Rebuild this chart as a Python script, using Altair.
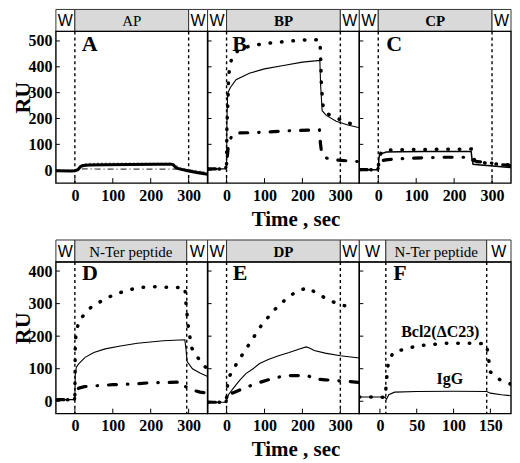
import altair as alt
import pandas as pd

SERIF = "Liberation Serif"
SANS = "Liberation Sans"
GRAY = "#d9d9d9"
PW, PH, HH, SP = 152, 152, 22, 57

# ---------------- data ----------------
A_sol_t = [-50, -10, 0, 8, 15, 22, 40, 80, 150, 220, 255, 260, 266, 275, 300, 325, 350]
A_sol_v = [-2, -3, -2, 2, 14, 18, 20, 21, 22, 23, 23, 20, 10, 5, -3, -10, -16]
A_dot_t = [-50, 0, 10, 18, 30, 80, 150, 220, 255, 262, 275, 300, 325, 350]
A_dot_v = [0, 0, 5, 20, 25, 27, 27, 27, 27, 22, 10, 2, -4, -10]
A_dd_t = [-50, 0, 12, 20, 100, 200, 290, 310, 350]
A_dd_v = [-2, -2, 3, 5, 4, 4, 4, 0, -12]

B_sol_t = [-50, -3, 0, 1, 3, 10, 25, 60, 100, 150, 200, 246, 248, 252, 263, 289, 320, 350]
B_sol_v = [5, 5, 15, 200, 298, 320, 350, 375, 392, 405, 418, 425, 330, 230, 212, 189, 175, 164]
B_dot_t = [-50, -3, 0, 1, 3, 5, 8, 15, 30, 60, 100, 170, 225, 246, 248, 250, 255, 270, 285, 320, 350]
B_dot_v = [5, 5, 20, 176, 240, 349, 400, 440, 462, 480, 490, 500, 506, 503, 445, 330, 240, 215, 205, 183, 172]
B_dd_t = [-50, -3, 0, 5, 15, 30, 60, 110, 170, 245, 247, 250, 259, 280, 320, 350]
B_dd_v = [5, 5, 20, 100, 138, 144, 145, 148, 153, 156, 110, 74, 49, 40, 36, 33]

C_sol_t = [-50, -2, 0, 2, 4, 21, 60, 120, 200, 245, 247, 250, 270, 295, 350]
C_sol_v = [2, 2, 10, 50, 61, 70, 71, 72, 72, 72, 45, 23, 20, 17, 10]
C_dot_t = [-50, -2, 0, 3, 8, 20, 100, 200, 245, 248, 255, 270, 300, 350]
C_dot_v = [2, 2, 10, 50, 70, 78, 80, 81, 82, 60, 35, 30, 25, 20]
C_dd_t = [-50, -2, 0, 5, 20, 56, 115, 175, 222, 245, 248, 260, 290, 320, 350]
C_dd_v = [2, 2, 8, 35, 40, 44, 48, 50, 50, 50, 40, 33, 30, 22, 18]

D_sol_t = [-50, -2, 0, 1, 4, 10, 27, 50, 80, 120, 165, 233, 290, 293, 296, 310, 330, 350]
D_sol_v = [5, 5, 10, 80, 105, 115, 135, 150, 161, 170, 178, 186, 189, 160, 122, 100, 87, 76]
D_dot_t = [-50, -2, 0, 1, 3, 12, 46, 105, 165, 203, 250, 285, 290, 293, 300, 308, 336, 350]
D_dot_v = [5, 5, 20, 160, 212, 250, 293, 329, 349, 352, 350, 349, 350, 300, 220, 164, 113, 100]
D_dd_t = [-50, -2, 0, 3, 10, 25, 50, 100, 150, 200, 250, 285, 292, 300, 312, 330, 350]
D_dd_v = [5, 5, 10, 30, 40, 45, 47, 51, 53, 57, 58, 59, 45, 40, 34, 28, 25]

E_sol_t = [-50, -2, 0, 5, 17, 35, 51, 70, 86, 110, 137, 165, 190, 210, 220, 231, 260, 300, 350]
E_sol_v = [-3, -3, 2, 20, 39, 65, 85, 100, 115, 128, 140, 150, 160, 167, 163, 156, 148, 140, 133]
E_dot_t = [-50, -2, 0, 4, 21, 43, 60, 77, 94, 128, 163, 188, 214, 240, 265, 295, 325]
E_dot_v = [-3, -3, 10, 69, 105, 146, 176, 207, 237, 283, 321, 339, 349, 330, 314, 298, 290]
E_dd_t = [-50, -2, 0, 5, 21, 50, 77, 110, 154, 214, 231, 260, 283, 320, 350]
E_dd_v = [-3, -3, 5, 20, 28, 42, 54, 66, 79, 79, 69, 66, 64, 61, 58]

F_dot_t = [-28, 0, 7, 9, 10, 12, 18, 35, 53, 88, 132, 145, 147, 150, 163, 178]
F_dot_v = [13, 13, 12, 60, 100, 120, 151, 161, 171, 178, 178, 176, 140, 90, 66, 52]
F_sol_t = [-28, 0, 7, 9, 12, 20, 50, 100, 145, 150, 165, 178]
F_sol_v = [13, 13, 12, 6, 20, 28, 30, 31, 30, 25, 20, 17]

TOP_Y = [-50, 537]
BOT_Y = [-38, 428]
TOP_TICKS = [0, 100, 200, 300, 400, 500]
BOT_TICKS = [0, 100, 200, 300, 400]
X_TICKS = [0, 100, 200, 300]
F_TICKS = [0, 50, 100, 150]

panels = [
    dict(letter="A", lx=18, ly=462, xdom=[-50, 350], ydom=TOP_Y, xt=X_TICKS, yt=TOP_TICKS,
         marks=[0, 300], head="AP", hbold=False, yaxis=True, xtitle=False, solw=3.0, thin=True,
         series=[(A_dot_t, A_dot_v, "dot"), (A_dd_t, A_dd_v, "dd"), (A_sol_t, A_sol_v, "sol")]),
    dict(letter="B", lx=15, ly=462, xdom=[-50, 350], ydom=TOP_Y, xt=X_TICKS, yt=TOP_TICKS,
         marks=[0, 300], head="BP", hbold=True, yaxis=False, xtitle=True, solw=1.1, thin=False,
         series=[(B_sol_t, B_sol_v, "sol"), (B_dot_t, B_dot_v, "dot"), (B_dd_t, B_dd_v, "dd")]),
    dict(letter="C", lx=21, ly=462, xdom=[-50, 350], ydom=TOP_Y, xt=X_TICKS, yt=TOP_TICKS,
         marks=[0, 300], head="CP", hbold=True, yaxis=False, xtitle=False, solw=1.5, thin=False,
         series=[(C_sol_t, C_sol_v, "sol"), (C_dot_t, C_dot_v, "dot"), (C_dd_t, C_dd_v, "dd")]),
    dict(letter="D", lx=19, ly=372, xdom=[-50, 350], ydom=BOT_Y, xt=X_TICKS, yt=BOT_TICKS,
         marks=[0, 295], head="N-Ter peptide", hbold=False, yaxis=True, xtitle=False, solw=1.1, thin=False,
         series=[(D_sol_t, D_sol_v, "sol"), (D_dot_t, D_dot_v, "dot"), (D_dd_t, D_dd_v, "dd")]),
    dict(letter="E", lx=16, ly=372, xdom=[-50, 350], ydom=BOT_Y, xt=X_TICKS, yt=BOT_TICKS,
         marks=[0, 300], head="DP", hbold=True, yaxis=False, xtitle=True, solw=1.1, thin=False,
         series=[(E_sol_t, E_sol_v, "sol"), (E_dot_t, E_dot_v, "dot"), (E_dd_t, E_dd_v, "dd")]),
    dict(letter="F", lx=18, ly=372, xdom=[-28, 178], ydom=BOT_Y, xt=F_TICKS, yt=BOT_TICKS,
         marks=[8, 145], head="N-Ter peptide", hbold=False, yaxis=False, xtitle=False, solw=1.1, thin=False,
         series=[(F_sol_t, F_sol_v, "sol"), (F_dot_t, F_dot_v, "dot")]),
]

F_notes = ["Bcl2(\u0394C23)", "IgG"]
F_note_x = [82, 95]
F_note_y = [196, 52]


def header(p):
    x0, x1 = p["xdom"]
    m0, m1 = p["marks"]
    xs = alt.Scale(domain=p["xdom"], nice=False, zero=False)
    seg = pd.DataFrame({"a": [x0, m0, m1], "b": [m0, m1, x1], "f": ["white", GRAY, "white"]})
    rects = alt.Chart(seg).mark_rect(stroke="#333", strokeWidth=1).encode(
        x=alt.X("a:Q", scale=xs, axis=None), x2="b:Q",
        y=alt.value(0), y2=alt.value(HH),
        fill=alt.Fill("f:N", scale=None))
    wdf = pd.DataFrame({"x": [(x0 + m0) / 2, (m1 + x1) / 2], "s": ["W", "W"]})
    wt = alt.Chart(wdf).mark_text(font=SANS, fontSize=16, baseline="middle", color="black").encode(
        x=alt.X("x:Q", scale=xs, axis=None), y=alt.value(HH / 2 + 1), text="s:N")
    ldf = pd.DataFrame({"x": [(m0 + m1) / 2], "s": [p["head"]]})
    lt = alt.Chart(ldf).mark_text(font=SERIF, fontSize=15, baseline="middle", color="black",
                                  fontWeight="bold" if p["hbold"] else "normal").encode(
        x=alt.X("x:Q", scale=xs, axis=None), y=alt.value(HH / 2 + 1), text="s:N")
    return alt.layer(rects, wt, lt).properties(width=PW, height=HH)


def plot(p):
    xs = alt.Scale(domain=p["xdom"], nice=False, zero=False)
    ys = alt.Scale(domain=p["ydom"], nice=False, zero=False)
    xkw = dict(values=p["xt"], ticks=False, domain=False, grid=False, labelFont=SERIF,
               labelFontSize=16, labelFontWeight="bold", labelColor="black", labelPadding=4,
               labelFlush=False)
    if p["xtitle"]:
        xax = alt.Axis(title="Time , sec", titleFont=SERIF, titleFontSize=21, titleFontWeight="bold",
                       titleColor="black", titleX=88, titleY=42, titleBaseline="alphabetic",
                       titleAlign="center", **xkw)
    else:
        xax = alt.Axis(title=None, **xkw)
    if p["yaxis"]:
        yax = alt.Axis(values=p["yt"], ticks=False, domain=False, grid=False, labelFont=SERIF,
                       labelFontSize=16, labelFontWeight="bold", labelColor="black", labelPadding=4,
                       title="RU", titleFont=SERIF, titleFontSize=22, titleFontWeight="bold",
                       titleColor="black", titleX=-33, titleY=66, titleAngle=270,
                       titleAlign="center", titleBaseline="middle", labelFlush=False)
    else:
        yax = None

    X = lambda f: alt.X(f, scale=xs, axis=xax)
    Y = lambda f: alt.Y(f, scale=ys, axis=yax)

    layers = []
    for t, v, kind in p["series"]:
        df = pd.DataFrame({"t": t, "v": v})
        if kind == "sol":
            m = alt.Chart(df).mark_line(color="black", strokeWidth=p["solw"], clip=True)
        elif kind == "dot":
            if p["thin"]:
                m = alt.Chart(df).mark_line(color="#777", strokeWidth=1.6, strokeDash=[0.5, 3.5],
                                            strokeCap="round", clip=True)
            else:
                m = alt.Chart(df).mark_line(color="black", strokeWidth=3.5, strokeDash=[0.5, 11],
                                            strokeCap="round", clip=True)
        else:
            if p["thin"]:
                m = alt.Chart(df).mark_line(color="#444", strokeWidth=1.2, strokeDash=[6, 3, 1, 3],
                                            clip=True)
            else:
                m = alt.Chart(df).mark_line(color="black", strokeWidth=3.2, strokeDash=[8, 11, 0.5, 11],
                                            strokeCap="round", clip=True)
        layers.append(m.encode(x=X("t:Q"), y=Y("v:Q"), order=alt.Order("t:Q")))

    vl = alt.Chart(pd.DataFrame({"t": p["marks"]})).mark_rule(
        color="black", strokeWidth=1.4, strokeDash=[3, 3]).encode(x=X("t:Q"))
    ytk = alt.Chart(pd.DataFrame({"v": p["yt"]})).mark_rule(color="black", strokeWidth=1).encode(
        y=Y("v:Q"), x=alt.value(0), x2=alt.value(4))
    xtk = alt.Chart(pd.DataFrame({"t": p["xt"]})).mark_rule(color="black", strokeWidth=1).encode(
        x=X("t:Q"), y=alt.value(PH), y2=alt.value(PH - 5))
    let = alt.Chart(pd.DataFrame({"t": [p["lx"]], "v": [p["ly"]], "s": [p["letter"]]})).mark_text(
        font=SERIF, fontSize=22, fontWeight="bold", align="left", baseline="alphabetic",
        color="black").encode(x=X("t:Q"), y=Y("v:Q"), text="s:N")
    frame = alt.Chart(pd.DataFrame({"k": [0]})).mark_rect(
        fillOpacity=0, stroke="black", strokeWidth=1.4).encode(
        x=alt.value(0), x2=alt.value(PW), y=alt.value(0), y2=alt.value(PH))
    parts = [vl] + layers + [ytk, xtk, let]
    if p["letter"] == "F":
        notes = alt.Chart(pd.DataFrame({"t": F_note_x, "v": F_note_y, "s": F_notes})).mark_text(
            font=SERIF, fontSize=16, fontWeight="bold", align="center", baseline="alphabetic",
            color="black").encode(x=X("t:Q"), y=Y("v:Q"), text="s:N")
        parts.append(notes)
    parts.append(frame)
    return alt.layer(*parts).properties(width=PW, height=PH)


def spacer():
    return alt.Chart(pd.DataFrame({"t": [0], "v": [0]})).mark_point(opacity=0).encode(
        x=alt.X("t:Q", axis=None), y=alt.Y("v:Q", axis=None)).properties(width=PW, height=SP)


cells = [header(p) for p in panels[:3]] + [plot(p) for p in panels[:3]] + \
        [spacer() for _ in range(3)] + \
        [header(p) for p in panels[3:]] + [plot(p) for p in panels[3:]]

chart = alt.concat(*cells, columns=3, spacing=0, bounds="flush").resolve_scale(
    x="independent", y="independent").configure_view(stroke=None).properties(
    padding={"left": 4, "top": 0, "right": 0, "bottom": 0}, background="white")

chart.save("out.html", embed_options={"renderer": "svg", "actions": False})
